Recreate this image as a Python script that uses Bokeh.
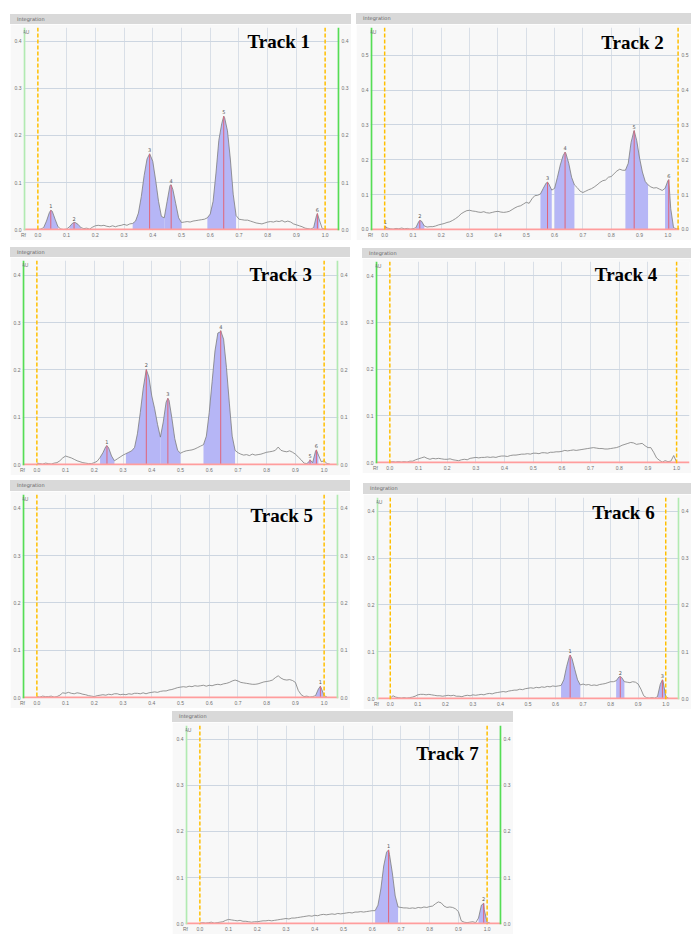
import numpy as np
from bokeh.plotting import figure
from bokeh.models import Span, Label, FixedTicker, Div, Spacer, LinearAxis, Range1d, ColumnDataSource
from bokeh.layouts import row, column
from bokeh.embed import file_html
from bokeh.resources import INLINE
from bokeh.core.properties import value

# ---------------- axis ticks / labels ----------------
x_tick_values = [-0.05, 0.0, 0.1, 0.2, 0.3, 0.4, 0.5, 0.6, 0.7, 0.8, 0.9, 1.0]
x_tick_labels = ["Rf", "0.0", "0.1", "0.2", "0.3", "0.4", "0.5", "0.6", "0.7", "0.8", "0.9", "1.0"]
x_grid_values = [0.1, 0.2, 0.3, 0.4, 0.5, 0.6, 0.7, 0.8, 0.9]
y_tick_values = [0.0, 0.1, 0.2, 0.3, 0.4]
y_tick_labels = ["0.0", "0.1", "0.2", "0.3", "0.4"]
y_tick_values_t2 = [0.0, 0.1, 0.2, 0.3, 0.4, 0.5]
y_tick_labels_t2 = ["0.0", "0.1", "0.2", "0.3", "0.4", "0.5"]

RF_STEP = 0.01   # profile sampled every 0.01 Rf, starting at Rf 0.00

# ---------------- Track 1 ----------------
t1_profile = [
    0.000, 0.001, 0.004, 0.018, 0.036, 0.039, 0.022, 0.006, 0.001, 0.000,
    0.001, 0.006, 0.013, 0.015, 0.011, 0.004, 0.002, 0.003, 0.001, 0.005,
    0.008, 0.009, 0.008, 0.009, 0.007, 0.006, 0.008, 0.006, 0.008, 0.009,
    0.011, 0.009, 0.012, 0.013, 0.018, 0.035, 0.070, 0.115, 0.150, 0.160,
    0.145, 0.105, 0.060, 0.028, 0.025, 0.060, 0.094, 0.085, 0.055, 0.025,
    0.015, 0.016, 0.017, 0.016, 0.018, 0.019, 0.020, 0.021, 0.022, 0.025,
    0.033, 0.060, 0.120, 0.190, 0.225, 0.238, 0.210, 0.150, 0.075, 0.030,
    0.022, 0.021, 0.020, 0.020, 0.018, 0.016, 0.014, 0.013, 0.012, 0.014,
    0.016, 0.017, 0.016, 0.018, 0.017, 0.019, 0.016, 0.018, 0.016, 0.012,
    0.010, 0.008, 0.006, 0.003, 0.002, 0.001, 0.004, 0.030, 0.020, 0.002,
    0.001, 0.000, 0.000]
t1_peak_no = ["1", "2", "3", "4", "5", "6"]
t1_peak_rf = [0.045, 0.126, 0.389, 0.464, 0.647, 0.973]
t1_peak_h = [0.041, 0.015, 0.161, 0.095, 0.241, 0.034]
t1_peak_from = [0.02, 0.11, 0.33, 0.44, 0.59, 0.96]
t1_peak_to = [0.07, 0.15, 0.44, 0.50, 0.69, 0.98]

# ---------------- Track 2 ----------------
t2_profile = [
    0.008, 0.004, 0.002, 0.001, 0.003, 0.002, 0.004, 0.002, 0.003, 0.001,
    0.002, 0.005, 0.022, 0.024, 0.010, 0.007, 0.008, 0.008, 0.010, 0.013,
    0.015, 0.017, 0.020, 0.022, 0.026, 0.031, 0.037, 0.045, 0.050, 0.054,
    0.055, 0.053, 0.052, 0.050, 0.049, 0.051, 0.048, 0.047, 0.049, 0.051,
    0.052, 0.050, 0.049, 0.050, 0.052, 0.057, 0.062, 0.066, 0.068, 0.073,
    0.078, 0.075, 0.088, 0.097, 0.098, 0.102, 0.118, 0.133, 0.130, 0.113,
    0.118, 0.150, 0.185, 0.212, 0.218, 0.190, 0.150, 0.128, 0.120, 0.110,
    0.106, 0.110, 0.114, 0.117, 0.122, 0.128, 0.135, 0.140, 0.142, 0.150,
    0.152, 0.160, 0.168, 0.173, 0.170, 0.170, 0.190, 0.250, 0.283, 0.255,
    0.205, 0.165, 0.138, 0.128, 0.122, 0.119, 0.120, 0.116, 0.112, 0.118,
    0.140, 0.060, 0.005, 0.002, 0.002]
t2_peak_no = ["1", "2", "3", "4", "5", "6"]
t2_peak_rf = [0.002, 0.124, 0.575, 0.637, 0.881, 1.003]
t2_peak_h = [0.009, 0.026, 0.136, 0.222, 0.284, 0.143]
t2_peak_from = [0.00, 0.11, 0.55, 0.60, 0.85, 0.99]
t2_peak_to = [0.01, 0.14, 0.59, 0.67, 0.93, 1.02]

# ---------------- Track 3 ----------------
t3_profile = [
    0.003, 0.002, 0.001, 0.003, 0.002, 0.001, 0.003, 0.004, 0.008, 0.014,
    0.018, 0.016, 0.014, 0.011, 0.008, 0.006, 0.004, 0.003, 0.002, 0.002,
    0.004, 0.007, 0.015, 0.025, 0.038, 0.035, 0.018, 0.008, 0.012, 0.016,
    0.020, 0.023, 0.026, 0.029, 0.036, 0.065, 0.110, 0.160, 0.198, 0.185,
    0.145, 0.118, 0.085, 0.058, 0.090, 0.132, 0.136, 0.098, 0.055, 0.030,
    0.024, 0.027, 0.029, 0.030, 0.031, 0.033, 0.036, 0.039, 0.042, 0.060,
    0.110, 0.175, 0.240, 0.278, 0.281, 0.265, 0.205, 0.130, 0.060, 0.030,
    0.025, 0.022, 0.020, 0.021, 0.019, 0.022, 0.020, 0.021, 0.022, 0.024,
    0.026, 0.027, 0.028, 0.030, 0.037, 0.030, 0.028, 0.027, 0.029, 0.026,
    0.022, 0.016, 0.010, 0.003, 0.002, 0.008, 0.004, 0.028, 0.020, 0.006,
    0.008, 0.002, 0.001]
t3_peak_no = ["1", "2", "3", "4", "5", "6"]
t3_peak_rf = [0.244, 0.381, 0.456, 0.640, 0.951, 0.973]
t3_peak_h = [0.040, 0.201, 0.140, 0.283, 0.010, 0.031]
t3_peak_from = [0.22, 0.31, 0.43, 0.58, 0.94, 0.96]
t3_peak_to = [0.27, 0.43, 0.50, 0.69, 0.96, 0.98]

# ---------------- Track 4 ----------------
t4_profile = [
    0.001, 0.002, 0.001, 0.002, 0.001, 0.002, 0.001, 0.003, 0.003, 0.006,
    0.008, 0.010, 0.012, 0.009, 0.007, 0.009, 0.008, 0.009, 0.008, 0.007,
    0.007, 0.008, 0.006, 0.005, 0.004, 0.006, 0.007, 0.006, 0.009, 0.010,
    0.011, 0.010, 0.011, 0.011, 0.012, 0.011, 0.012, 0.011, 0.013, 0.014,
    0.014, 0.013, 0.015, 0.016, 0.016, 0.017, 0.018, 0.018, 0.019, 0.018,
    0.020, 0.020, 0.019, 0.021, 0.021, 0.020, 0.022, 0.022, 0.023, 0.023,
    0.024, 0.026, 0.025, 0.026, 0.027, 0.026, 0.027, 0.028, 0.029, 0.030,
    0.031, 0.032, 0.031, 0.030, 0.030, 0.029, 0.029, 0.030, 0.031, 0.032,
    0.034, 0.037, 0.039, 0.041, 0.043, 0.042, 0.039, 0.040, 0.041, 0.036,
    0.032, 0.032, 0.022, 0.010, 0.005, 0.001, 0.004, 0.002, 0.003, 0.015,
    0.001]
t4_peak_no = []
t4_peak_rf = []
t4_peak_h = []
t4_peak_from = []
t4_peak_to = []

# ---------------- Track 5 ----------------
t5_profile = [
    0.002, 0.001, 0.003, 0.002, 0.002, 0.003, 0.001, 0.002, 0.005, 0.010,
    0.009, 0.011, 0.009, 0.008, 0.010, 0.009, 0.007, 0.006, 0.004, 0.003,
    0.002, 0.004, 0.005, 0.006, 0.005, 0.007, 0.006, 0.008, 0.008, 0.006,
    0.007, 0.006, 0.008, 0.007, 0.009, 0.009, 0.008, 0.010, 0.008, 0.010,
    0.011, 0.012, 0.011, 0.013, 0.014, 0.014, 0.016, 0.017, 0.019, 0.021,
    0.022, 0.023, 0.022, 0.024, 0.023, 0.025, 0.024, 0.025, 0.026, 0.024,
    0.026, 0.025, 0.027, 0.028, 0.027, 0.029, 0.030, 0.032, 0.035, 0.037,
    0.035, 0.032, 0.031, 0.030, 0.029, 0.028, 0.028, 0.029, 0.031, 0.033,
    0.034, 0.035, 0.037, 0.042, 0.046, 0.041, 0.038, 0.037, 0.038, 0.036,
    0.032, 0.015, 0.006, 0.002, 0.003, 0.001, 0.002, 0.004, 0.018, 0.020,
    0.004, 0.001]
t5_peak_no = ["1"]
t5_peak_rf = [0.987]
t5_peak_h = [0.024]
t5_peak_from = [0.97]
t5_peak_to = [1.00]

# ---------------- Track 6 ----------------
t6_profile = [
    0.001, 0.006, 0.003, 0.002, 0.001, 0.002, 0.001, 0.002, 0.003, 0.005,
    0.008, 0.009, 0.009, 0.008, 0.009, 0.008, 0.007, 0.006, 0.006, 0.005,
    0.006, 0.007, 0.006, 0.007, 0.005, 0.005, 0.004, 0.006, 0.007, 0.006,
    0.008, 0.007, 0.008, 0.009, 0.008, 0.010, 0.011, 0.010, 0.012, 0.013,
    0.014, 0.015, 0.014, 0.016, 0.017, 0.018, 0.018, 0.020, 0.019, 0.021,
    0.022, 0.023, 0.022, 0.024, 0.023, 0.025, 0.024, 0.026, 0.025, 0.027,
    0.026, 0.027, 0.028, 0.040, 0.068, 0.090, 0.085, 0.062, 0.040, 0.029,
    0.031, 0.029, 0.030, 0.028, 0.029, 0.028, 0.030, 0.031, 0.032, 0.034,
    0.036, 0.036, 0.038, 0.046, 0.045, 0.036, 0.035, 0.034, 0.036, 0.035,
    0.031, 0.020, 0.006, 0.002, 0.001, 0.002, 0.001, 0.004, 0.030, 0.038,
    0.004, 0.001]
t6_peak_no = ["1", "2", "3"]
t6_peak_rf = [0.653, 0.835, 0.988]
t6_peak_h = [0.093, 0.047, 0.040]
t6_peak_from = [0.62, 0.82, 0.97]
t6_peak_to = [0.69, 0.85, 1.00]

# ---------------- Track 7 ----------------
t7_profile = [
    0.001, 0.002, 0.001, 0.002, 0.003, 0.001, 0.002, 0.003, 0.004, 0.007,
    0.009, 0.008, 0.007, 0.006, 0.007, 0.005, 0.005, 0.004, 0.003, 0.004,
    0.004, 0.005, 0.006, 0.006, 0.007, 0.006, 0.007, 0.008, 0.009, 0.010,
    0.011, 0.010, 0.012, 0.012, 0.013, 0.014, 0.015, 0.016, 0.017, 0.016,
    0.018, 0.017, 0.019, 0.020, 0.019, 0.020, 0.021, 0.020, 0.022, 0.021,
    0.022, 0.023, 0.024, 0.023, 0.025, 0.025, 0.026, 0.025, 0.026, 0.027,
    0.028, 0.028, 0.040, 0.075, 0.125, 0.155, 0.150, 0.110, 0.060, 0.036,
    0.035, 0.034, 0.034, 0.033, 0.034, 0.033, 0.035, 0.034, 0.036, 0.035,
    0.037, 0.038, 0.043, 0.047, 0.045, 0.038, 0.035, 0.036, 0.035, 0.032,
    0.026, 0.006, 0.003, 0.002, 0.003, 0.004, 0.002, 0.012, 0.040, 0.030,
    0.003, 0.001]
t7_peak_no = ["1", "2"]
t7_peak_rf = [0.657, 0.988]
t7_peak_h = [0.160, 0.044]
t7_peak_from = [0.61, 0.97]
t7_peak_to = [0.69, 1.00]

# ---------------- styling ----------------
PANEL_BG = "#f8f8f8"
HEADER_BG = "#d9d9d9"
GRID_X = "#d9dfe7"
GRID_Y = "#cdd6e1"
FILL = "#b6b6f6"
TRACE = "#7c7c7c"
PEAK_LINE = "#e06479"
BASELINE = "#ff9d9d"
ORANGE = "#ffbf00"
GREEN = "#55dd55"
GREEN_LIGHT = "#b2eab2"
LABEL = "#707070"


def style_axis(ax):
    ax.axis_line_color = None
    ax.major_tick_line_color = None
    ax.minor_tick_line_color = None
    ax.major_tick_out = 0
    ax.major_tick_in = 0
    ax.minor_tick_out = 0
    ax.minor_tick_in = 0
    ax.major_label_text_font_size = "5px"
    ax.major_label_text_color = LABEL
    ax.major_label_standoff = 2


def make_track(name, profile, pk_no, pk_rf, pk_h, pk_from, pk_to, c):
    vals = np.asarray(profile, float)
    grid = np.round(RF_STEP * np.arange(len(vals)), 3)
    xs = np.concatenate([grid, np.asarray(pk_rf, float)])
    ys = np.concatenate([vals, np.asarray(pk_h, float)])
    o = np.argsort(xs, kind="stable")
    xs, ys = xs[o], ys[o]

    p = figure(width=c["w"], height=c["h"], x_range=Range1d(*c["xr"]), y_range=Range1d(*c["yr"]),
               output_backend="svg", toolbar_location=None,
               min_border_left=c["bl"], min_border_right=c["br"],
               min_border_top=c["bt"], min_border_bottom=c["bb"])
    p.background_fill_color = PANEL_BG
    p.border_fill_color = PANEL_BG
    p.outline_line_color = None

    yt = c["yt"]
    ylab = c["yl"]
    p.xaxis.ticker = FixedTicker(ticks=x_tick_values)
    p.xaxis.major_label_overrides = dict(zip(x_tick_values, x_tick_labels))
    p.yaxis.ticker = FixedTicker(ticks=yt)
    p.yaxis.major_label_overrides = dict(zip(yt, ylab))
    style_axis(p.xaxis[0])
    style_axis(p.yaxis[0])
    p.xaxis.major_label_standoff = 1
    if c["right_axis"]:
        ra = LinearAxis(ticker=FixedTicker(ticks=yt), major_label_overrides=dict(zip(yt, ylab)))
        style_axis(ra)
        p.add_layout(ra, "right")

    p.xgrid.ticker = FixedTicker(ticks=x_grid_values)
    p.ygrid.ticker = FixedTicker(ticks=yt[1:])
    p.xgrid.grid_line_color = GRID_X
    p.ygrid.grid_line_color = GRID_Y
    p.xgrid.grid_line_width = 1
    p.ygrid.grid_line_width = 1

    # integrated peak areas
    for f, t in zip(pk_from, pk_to):
        m = (xs >= f - 1e-9) & (xs <= t + 1e-9)
        p.varea(x=xs[m], y1=np.zeros(m.sum()), y2=ys[m], fill_color=FILL, fill_alpha=1.0)

    # profile trace
    p.line(xs, ys, line_color=TRACE, line_width=0.8)

    # peak maxima
    if len(pk_rf):
        src = ColumnDataSource(dict(x=list(pk_rf), h=list(pk_h), z=[0.0] * len(pk_rf), t=list(pk_no)))
        p.segment(x0="x", y0="z", x1="x", y1="h", source=src, line_color=PEAK_LINE, line_width=1)
        p.text(x="x", y="h", text="t", source=src, text_font=value("DejaVu Sans"), text_font_size="5px",
               text_color="#555555", text_align="center", text_baseline="bottom", y_offset=-2)

    # baseline, start / front lines, edge markers
    p.add_layout(Span(location=0.0, dimension="width", line_color=BASELINE, line_width=2))
    if c["gl"]:
        p.add_layout(Span(location=c["xr"][0] + 0.003, dimension="height", line_color=c["gl"], line_width=2))
    if c["gr"]:
        p.add_layout(Span(location=c["xr"][1] - 0.003, dimension="height", line_color=c["gr"], line_width=2))
    p.add_layout(Span(location=0.0, dimension="height", line_color=ORANGE, line_width=1.5, line_dash="4 2"))
    p.add_layout(Span(location=c["front"], dimension="height", line_color=ORANGE, line_width=1.5, line_dash="4 2"))

    p.add_layout(Label(x=c["xr"][0], y=c["yr"][1], text="AU", text_font_size="5px", text_color=LABEL,
                       text_align="left", text_baseline="top", x_offset=-1, y_offset=-1))

    p.add_layout(Label(x=c["tx"], y=c["ty"], text=name, text_font="Liberation Serif",
                       text_font_style="bold", text_font_size="19px", text_color="#000000",
                       text_baseline="alphabetic"))

    header = Div(text='<span style="margin-left:7px">Integration</span>', width=c["w"], height=c["hh"], margin=0,
                 styles={"background-color": HEADER_BG, "font-size": "5px", "color": "#666",
                         "line-height": f'{c["hh"]}px', "overflow": "hidden", "font-family": "DejaVu Sans"})
    items = []
    if c["sp"] > 0:
        items.append(Spacer(width=c["w"], height=c["sp"]))
    items += [header, p]
    return column(*items, spacing=0)


cfg = {
    1: dict(w=341, h=216, hh=10, sp=14, bl=13, br=10, bt=3, bb=8, xr=(-0.05, 1.05), yr=(-0.002, 0.4295),
            yt=y_tick_values, yl=y_tick_labels, right_axis=True, gl=GREEN_LIGHT, gr=GREEN, front=1.0,
            tx=0.73, ty=0.40),
    2: dict(w=335, h=216, hh=11, sp=13, bl=14, br=10, bt=3, bb=9, xr=(-0.05, 1.041), yr=(-0.003, 0.58),
            yt=y_tick_values_t2, yl=y_tick_labels_t2, right_axis=True, gl=GREEN, gr=None, front=1.036,
            tx=0.765, ty=0.537),
    3: dict(w=340, h=218, hh=10, sp=7, bl=12, br=12, bt=3, bb=8, xr=(-0.05, 1.05), yr=(-0.002, 0.4314),
            yt=y_tick_values, yl=y_tick_labels, right_axis=True, gl=GREEN, gr=GREEN_LIGHT, front=1.0,
            tx=0.74, ty=0.402),
    4: dict(w=329, h=215, hh=10, sp=8, bl=13, br=2, bt=3, bb=10, xr=(-0.05, 1.045), yr=(-0.002, 0.430),
            yt=y_tick_values, yl=y_tick_labels, right_axis=False, gl=GREEN, gr=None, front=1.0,
            tx=0.715, ty=0.403),
    5: dict(w=340, h=217, hh=11, sp=5, bl=12, br=11, bt=3, bb=8, xr=(-0.05, 1.05), yr=(-0.002, 0.4293),
            yt=y_tick_values, yl=y_tick_labels, right_axis=True, gl=GREEN, gr=GREEN_LIGHT, front=1.0,
            tx=0.744, ty=0.385),
    6: dict(w=328, h=215, hh=11, sp=8, bl=13, br=11, bt=3, bb=7, xr=(-0.05, 1.05), yr=(-0.002, 0.4295),
            yt=y_tick_values, yl=y_tick_labels, right_axis=True, gl=GREEN_LIGHT, gr=GREEN_LIGHT, front=1.0,
            tx=0.733, ty=0.398),
    7: dict(w=341, h=212, hh=11, sp=2, bl=13, br=12, bt=3, bb=7, xr=(-0.05, 1.05), yr=(-0.002, 0.430),
            yt=y_tick_values, yl=y_tick_labels, right_axis=True, gl=GREEN_LIGHT, gr=GREEN, front=1.0,
            tx=0.753, ty=0.369),
}

tracks = {
    1: (t1_profile, t1_peak_no, t1_peak_rf, t1_peak_h, t1_peak_from, t1_peak_to),
    2: (t2_profile, t2_peak_no, t2_peak_rf, t2_peak_h, t2_peak_from, t2_peak_to),
    3: (t3_profile, t3_peak_no, t3_peak_rf, t3_peak_h, t3_peak_from, t3_peak_to),
    4: (t4_profile, t4_peak_no, t4_peak_rf, t4_peak_h, t4_peak_from, t4_peak_to),
    5: (t5_profile, t5_peak_no, t5_peak_rf, t5_peak_h, t5_peak_from, t5_peak_to),
    6: (t6_profile, t6_peak_no, t6_peak_rf, t6_peak_h, t6_peak_from, t6_peak_to),
    7: (t7_profile, t7_peak_no, t7_peak_rf, t7_peak_h, t7_peak_from, t7_peak_to),
}

panels = {k: make_track(f"Track {k}", *tracks[k], cfg[k]) for k in tracks}

layout = column(
    row(Spacer(width=10, height=10), panels[1], Spacer(width=5, height=10), panels[2], spacing=0),
    row(Spacer(width=10, height=10), panels[3], Spacer(width=12, height=10), panels[4], spacing=0),
    row(Spacer(width=10, height=10), panels[5], Spacer(width=13, height=10), panels[6], spacing=0),
    row(Spacer(width=172, height=10), panels[7], spacing=0),
    spacing=0,
)

open("out.html", "w").write(file_html(layout, INLINE))
